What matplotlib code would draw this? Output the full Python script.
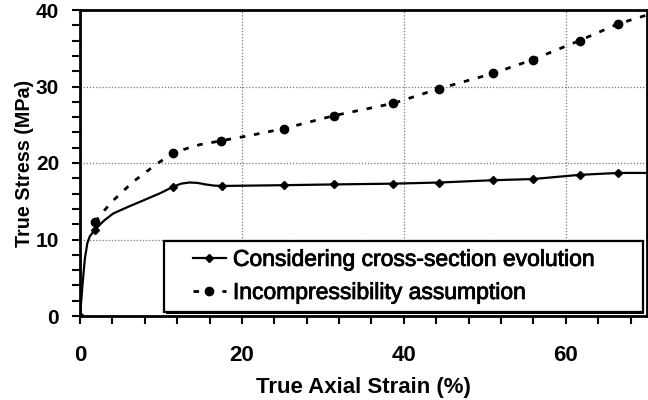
import matplotlib
matplotlib.use("Agg")
import matplotlib.pyplot as plt
import matplotlib.patheffects as pe
from matplotlib.patches import Rectangle
from matplotlib.ticker import MultipleLocator

plt.rcParams['font.family'] = ['Liberation Sans', 'DejaVu Sans']

# solid curve: considering cross-section evolution
strain_cs = [0, 0.15, 0.3, 0.45, 0.6, 0.9, 1.2, 1.85, 3.0, 4.1, 6.0, 7.8, 10.0, 11.5,
             12.5, 13.5, 14.5, 15.5, 16.5, 17.5, 25.2, 31.4, 38.7, 44.4, 51.0, 55.9,
             61.7, 66.5, 70.0]
stress_cs = [0, 2.0, 4.0, 5.8, 7.5, 9.5, 10.4, 11.3, 12.5, 13.4, 14.3, 15.1, 16.1, 16.9,
             17.3, 17.45, 17.4, 17.2, 17.05, 17.0, 17.1, 17.2, 17.3, 17.45, 17.75, 17.9,
             18.45, 18.7, 18.7]
mark_strain_cs = [0, 1.85, 11.5, 17.5, 25.2, 31.4, 38.7, 44.4, 51.0, 55.9, 61.7, 66.5]
mark_stress_cs = [0, 11.3, 16.9, 17.0, 17.1, 17.2, 17.3, 17.45, 17.75, 17.9, 18.45, 18.7]

# dotted curve: incompressibility assumption
strain_inc = [1.85, 3.0, 4.1, 6.5, 9.5, 11.5, 13.2, 14.8, 17.4, 21.0, 25.2, 31.4, 38.7,
              44.3, 51.0, 55.9, 61.7, 66.5, 69.9]
stress_inc = [12.3, 13.8, 15.1, 17.5, 19.9, 21.3, 21.9, 22.4, 22.9, 23.6, 24.5, 26.2, 27.8,
              29.7, 31.7, 33.5, 36.0, 38.2, 39.3]
mark_strain_inc = [1.85, 11.5, 17.4, 25.2, 31.4, 38.7, 44.3, 51.0, 55.9, 61.7, 66.5]
mark_stress_inc = [12.3, 21.3, 22.9, 24.5, 26.2, 27.8, 29.7, 31.7, 33.5, 36.0, 38.2]

labels = ['Considering cross-section evolution', 'Incompressibility assumption']

fig = plt.figure(figsize=(6.48, 4.0), dpi=100)
ax = fig.add_axes([0.1235, 0.21, 0.8745, 0.765])

# curves
ax.plot(strain_cs, stress_cs, color='black', lw=1.6, zorder=3)
ax.plot(strain_inc, stress_inc, color='black', lw=2.0, linestyle=(0, (2, 3.2)), zorder=3)
ax.plot(mark_strain_cs, mark_stress_cs, linestyle='none', marker='D', ms=4.5,
        color='black', zorder=4)
ax.plot(mark_strain_inc, mark_stress_inc, linestyle='none', marker='o', ms=6,
        color='black', zorder=4)

# legend box with small shadow
ax.add_patch(Rectangle((0.151, 0.006), 0.845, 0.232, transform=ax.transAxes,
                       facecolor='black', edgecolor='none', zorder=5, clip_on=False))
ax.add_patch(Rectangle((0.148, 0.013), 0.845, 0.232, transform=ax.transAxes,
                       facecolor='white', edgecolor='black', lw=1.6, zorder=5.5,
                       clip_on=False))

h1, = ax.plot([], [], color='black', lw=1.6, marker='D', ms=4.5)
h2, = ax.plot([], [], color='black', lw=2.0, linestyle=(0, (2, 3.2)), marker='o', ms=6)
leg = ax.legend([h1, h2], labels, loc='center left', bbox_to_anchor=(0.199, 0.131),
                fontsize=16.5, frameon=False, handlelength=1.45, handletextpad=0.3,
                labelspacing=0.44, borderaxespad=0, borderpad=0)
leg.set_zorder(6)
for t in leg.get_texts():
    t.set_path_effects([pe.withStroke(linewidth=0.6, foreground='black')])

ax.set_xlim(0, 70)
ax.set_ylim(0, 40)
ax.xaxis.set_major_locator(MultipleLocator(20))
ax.xaxis.set_minor_locator(MultipleLocator(4))
ax.yaxis.set_major_locator(MultipleLocator(10))
ax.yaxis.set_minor_locator(MultipleLocator(2))
ax.grid(True, which='major', color='#777777', linestyle=(0, (1, 1.5)), lw=0.9)

for s in ax.spines.values():
    s.set_linewidth(2.0)
ax.tick_params(which='both', direction='out', width=1.5, length=6)
ax.tick_params(axis='x', which='major', pad=15)
ax.tick_params(axis='y', which='major', pad=9)
for lbl in ax.get_xticklabels():
    lbl.set_fontsize(16)
    lbl.set_fontweight('bold')
for lbl in ax.get_yticklabels():
    lbl.set_fontsize(15)
    lbl.set_fontweight('bold')

ax.set_xlabel('True Axial Strain (%)', fontsize=16, fontweight='bold', labelpad=8)
ax.set_ylabel('True Stress (MPa)', fontsize=14.2, fontweight='bold', labelpad=1)

fig.savefig('out.png', dpi=100)
